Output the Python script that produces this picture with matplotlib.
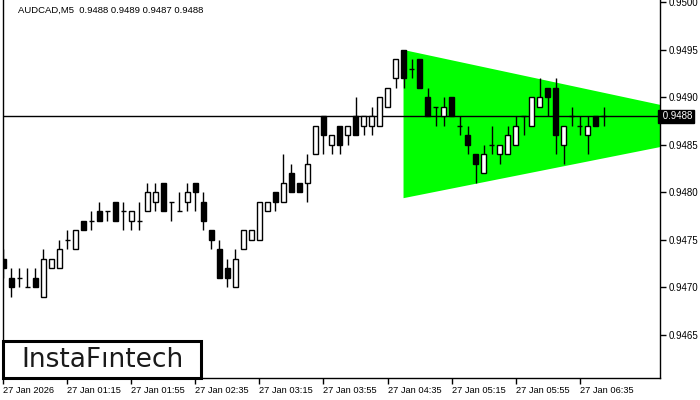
import matplotlib
matplotlib.use("Agg")
import matplotlib.pyplot as plt
from matplotlib.patches import Polygon, Rectangle

title = "AUDCAD,M5  0.9488 0.9489 0.9487 0.9488"
opens = [0.9473,0.9471,0.9471,0.9470,0.9471,0.9469,0.9472,0.9472,0.9475,0.9474,
         0.9477,0.9477,0.9478,0.9478,0.9479,0.9478,0.9477,0.9477,0.9478,0.9479,
         0.9481,0.9479,0.9478,0.9479,0.9481,0.9479,0.9476,0.9474,0.9472,0.9470,
         0.9474,0.9475,0.9475,0.9478,0.9480,0.9479,0.9482,0.9481,0.9481,0.9484,
         0.9488,0.9485,0.9487,0.9486,0.9488,0.9487,0.9487,0.9487,0.9489,0.9492,
         0.9495,0.9493,0.9494,0.9490,0.9489,0.9488,0.9490,0.9487,0.9486,0.9484,
         0.9482,0.9485,0.9484,0.9484,0.9485,0.9488,0.9487,0.9489,0.9491,0.9491,
         0.9485,0.9488,0.9487,0.9486,0.9488,0.9488]
highs = [0.9474,0.9472,0.9472,0.9472,0.9472,0.9474,0.9473,0.9475,0.9476,0.9476,
         0.9477,0.9478,0.9479,0.9478,0.9479,0.9479,0.9478,0.9479,0.9481,0.9481,
         0.9481,0.9479,0.9480,0.9481,0.9481,0.9480,0.9476,0.9475,0.9473,0.9474,
         0.9476,0.9476,0.9479,0.9479,0.9480,0.9484,0.9483,0.9481,0.9484,0.9487,
         0.9488,0.9486,0.9487,0.9487,0.9490,0.9488,0.9489,0.9490,0.9491,0.9494,
         0.9495,0.9494,0.9494,0.9491,0.9489,0.9490,0.9490,0.9488,0.9487,0.9484,
         0.9485,0.9487,0.9485,0.9487,0.9488,0.9488,0.9490,0.9492,0.9491,0.9492,
         0.9487,0.9489,0.9488,0.9488,0.9488,0.9489]
lows = [0.9471,0.9469,0.9470,0.9470,0.9470,0.9469,0.9472,0.9472,0.9474,0.9474,
        0.9476,0.9476,0.9477,0.9477,0.9477,0.9476,0.9476,0.9476,0.9478,0.9478,
        0.9478,0.9477,0.9478,0.9478,0.9478,0.9476,0.9474,0.9471,0.9470,0.9470,
        0.9474,0.9475,0.9475,0.9478,0.9478,0.9479,0.9480,0.9480,0.9479,0.9484,
        0.9484,0.9484,0.9484,0.9485,0.9486,0.9486,0.9486,0.9487,0.9489,0.9491,
        0.9491,0.9492,0.9491,0.9488,0.9487,0.9487,0.9488,0.9486,0.9484,0.9481,
        0.9482,0.9484,0.9483,0.9484,0.9485,0.9486,0.9487,0.9489,0.9488,0.9484,
        0.9483,0.9487,0.9486,0.9484,0.9487,0.9487]
closes = [0.9472,0.9470,0.9471,0.9470,0.9470,0.9473,0.9473,0.9474,0.9475,0.9476,
          0.9476,0.9477,0.9477,0.9478,0.9477,0.9478,0.9478,0.9477,0.9480,0.9480,
          0.9478,0.9479,0.9478,0.9480,0.9480,0.9477,0.9475,0.9471,0.9471,0.9473,
          0.9476,0.9476,0.9479,0.9479,0.9479,0.9481,0.9480,0.9480,0.9483,0.9487,
          0.9486,0.9486,0.9485,0.9487,0.9486,0.9488,0.9488,0.9490,0.9491,0.9494,
          0.9492,0.9493,0.9491,0.9488,0.9489,0.9489,0.9488,0.9487,0.9485,0.9483,
          0.9484,0.9485,0.9485,0.9486,0.9487,0.9488,0.9490,0.9490,0.9490,0.9486,
          0.9487,0.9488,0.9487,0.9487,0.9487,0.9488]

x_ticks = [0, 8, 16, 24, 32, 40, 48, 56, 64, 72]
x_labels = ["27 Jan 2026", "27 Jan 01:15", "27 Jan 01:55", "27 Jan 02:35", "27 Jan 03:15",
            "27 Jan 03:55", "27 Jan 04:35", "27 Jan 05:15", "27 Jan 05:55", "27 Jan 06:35"]
y_ticks = [0.9465, 0.9470, 0.9475, 0.9480, 0.9485, 0.9490, 0.9495, 0.9500]
y_labels = ["0.9465", "0.9470", "0.9475", "0.9480", "0.9485", "0.9490", "0.9495", "0.9500"]
bid_price = 0.9488
bid_label = "0.9488"

# triangle pattern (start bar, right-edge bar)
tri_x = [50, 82.2]
tri_top = [0.9495, 0.94892]
tri_bottom = [0.94794, 0.94848]

FONT = "Liberation Sans"
W, H = 700, 400
fig = plt.figure(figsize=(7, 4), dpi=100)
L, R, B, T = 3, 660, 378, 0
ax = fig.add_axes([L / W, 1 - B / H, (R - L) / W, (B - T) / H])
ax.set_xlim(-0.05, 82.05)
ax.set_ylim(0.946047, 0.950026)

poly = Polygon([(tri_x[0], tri_top[0]), (tri_x[1], tri_top[1]),
                (tri_x[1], tri_bottom[1]), (tri_x[0], tri_bottom[0])],
               closed=True, facecolor="#00ff00", edgecolor="none", zorder=1)
ax.add_patch(poly)

ax.axhline(bid_price, color="black", lw=1, zorder=2)

bw = 0.6
for i, (o, h, l, c) in enumerate(zip(opens, highs, lows, closes)):
    ax.vlines(i, l, h, color="black", lw=1, zorder=3)
    if abs(c - o) < 1e-9:
        ax.hlines(o, i - bw / 2, i + bw / 2, color="black", lw=1, zorder=4)
    else:
        fc = "white" if c > o else "black"
        ax.add_patch(Rectangle((i - bw / 2, min(o, c)), bw, abs(c - o),
                               facecolor=fc, edgecolor="black", lw=1, zorder=4))

ax.spines["top"].set_visible(False)
for s in ["left", "right", "bottom"]:
    ax.spines[s].set_linewidth(1)
ax.yaxis.tick_right()
ax.set_yticks(y_ticks)
ax.set_yticklabels(y_labels, fontsize=7, family=FONT)
ax.tick_params(axis="y", direction="out", length=4, width=1, pad=2)
ax.set_xticks(x_ticks)
ax.set_xticklabels(x_labels, fontsize=6.7, family=FONT, ha="left")
ax.tick_params(axis="x", direction="out", length=4, width=1, pad=2)

# bid label
ax.text(1.0, bid_price, " " + bid_label, transform=ax.get_yaxis_transform(),
        ha="left", va="center", fontsize=7, color="white", family=FONT,
        bbox=dict(boxstyle="square,pad=0.2", facecolor="black", edgecolor="black"),
        zorder=10, clip_on=False)

fig.text(18 / W, 1 - 10.5 / H, title, fontsize=6.8, ha="left", va="center", family=FONT)

# logo
fig.patches.append(Rectangle((3 / W, 1 - 378 / H), 198 / W, 37 / H, transform=fig.transFigure,
                             facecolor="white", edgecolor="black", lw=2.2, zorder=20))
fig.text(102 / W, 1 - 360 / H, "InstaF\u0131ntech", fontsize=19, ha="center", va="center",
         family="DejaVu Sans", color="#1a1a1a", zorder=21)

fig.savefig("out.png", dpi=100)
